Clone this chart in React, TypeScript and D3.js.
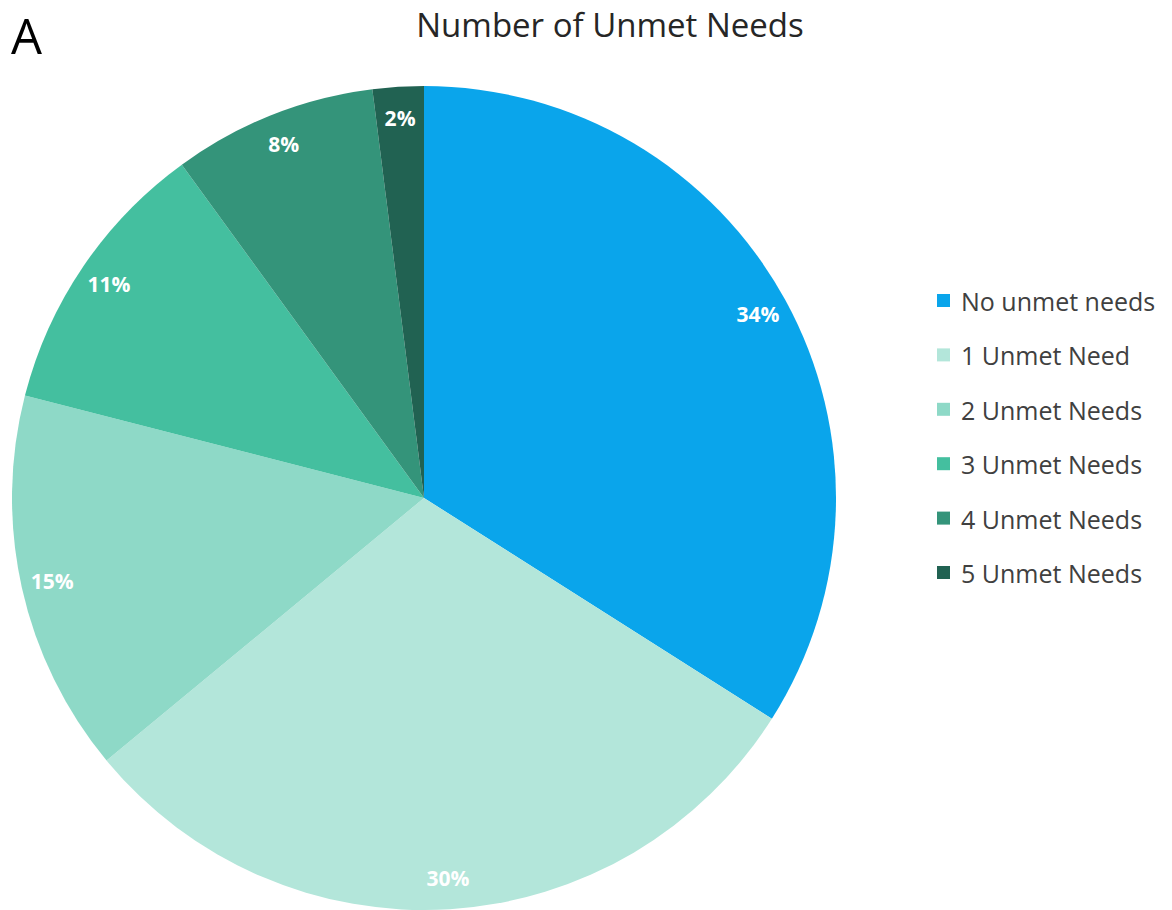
import React from "react";
import * as d3 from "d3";

const categories = ["No unmet needs", "1 Unmet Need", "2 Unmet Needs", "3 Unmet Needs", "4 Unmet Needs", "5 Unmet Needs"];
const values = [34, 30, 15, 11, 8, 2];
const colors = ["#0AA5EB", "#B3E6DA", "#8ED9C7", "#44BF9F", "#34947A", "#216252"];

const W = 1172, H = 910;
const cx = 424, cy = 498, R = 412, labelR = 381;

export default function App() {
  const pie = d3.pie<number>().sort(null).value((d) => d);
  const arcs = pie(values);
  const arc = d3.arc<d3.PieArcDatum<number>>().innerRadius(0).outerRadius(R);
  const labelArc = d3.arc<d3.PieArcDatum<number>>().innerRadius(labelR).outerRadius(labelR);
  const legendY = d3.scalePoint<string>().domain(categories).range([301, 573]);
  const font = "'Open Sans', sans-serif";
  return (
    <svg width={W} height={H} style={{ position: "absolute", left: 0, top: 0, background: "#fff" }}>
      <text x={11} y={54} fontFamily={font} fontSize={49} fill="#000">A</text>
      <text x={610} y={37} textAnchor="middle" fontFamily={font} fontSize={33} fill="#262626">Number of Unmet Needs</text>
      <g transform={`translate(${cx},${cy})`}>
        {arcs.map((a, i) => (
          <path key={i} d={arc(a) || ""} fill={colors[i]} />
        ))}
        {arcs.map((a, i) => {
          const [x, y] = labelArc.centroid(a);
          return (
            <text key={"l" + i} x={x} y={y} textAnchor="middle" dominantBaseline="central" fontFamily={font} fontWeight="bold" fontSize={21} fill="#fff">
              {values[i]}%
            </text>
          );
        })}
      </g>
      {categories.map((c, i) => (
        <g key={"lg" + i} transform={`translate(0,${legendY(c)})`}>
          <rect x={937} y={-7} width={13} height={13} fill={colors[i]} />
          <text x={961} y={0} dominantBaseline="central" fontFamily={font} fontSize={25} fill="#404040">{c}</text>
        </g>
      ))}
    </svg>
  );
}
